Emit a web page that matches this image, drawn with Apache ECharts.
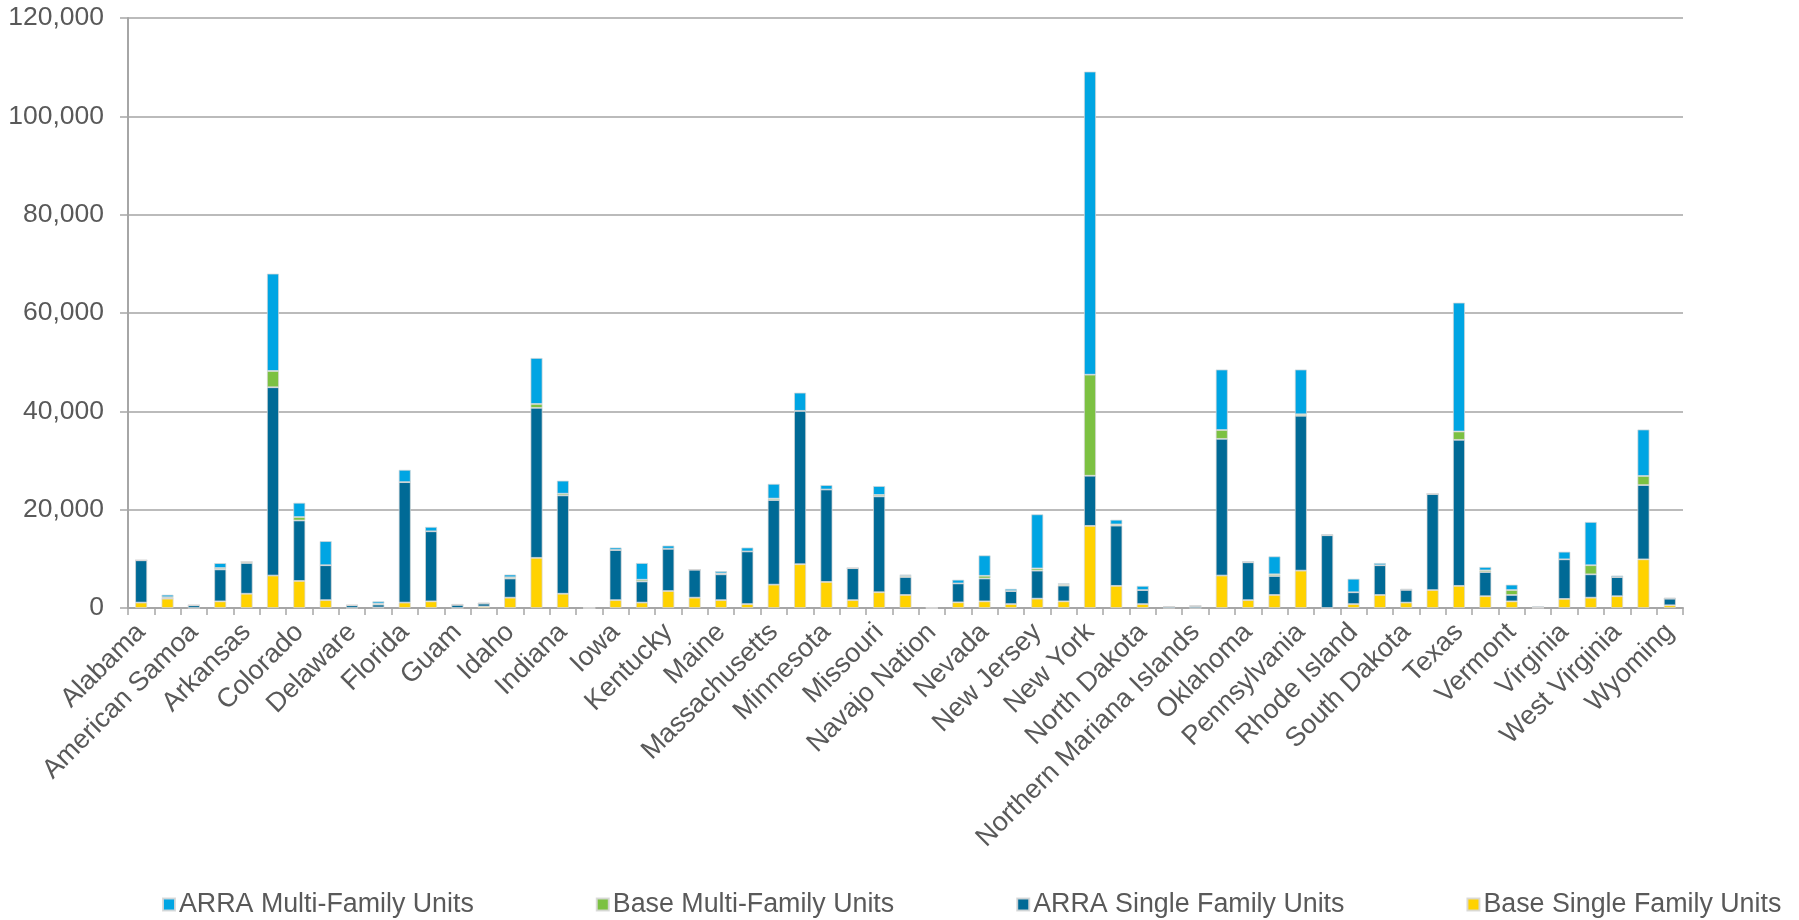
<!DOCTYPE html>
<html>
<head>
<meta charset="utf-8">
<title>Weatherization units by grantee</title>
<script src="https://cdn.jsdelivr.net/npm/echarts@6/dist/echarts.min.js"></script>
<style>
  html, body { margin: 0; padding: 0; background: #ffffff; }
  #chart { width: 1799px; height: 920px; }
</style>
</head>
<body>
<div id="chart"></div>
<script>
// Grantees, in alphabetical order
const grantees = [
  'Alabama', 'Alaska', 'American Samoa', 'Arizona', 'Arkansas', 'California',
  'Colorado', 'Connecticut', 'Delaware', 'District of Columbia', 'Florida',
  'Georgia', 'Guam', 'Hawaii', 'Idaho', 'Illinois', 'Indiana',
  'Inter Tribal Council of Arizona', 'Iowa', 'Kansas', 'Kentucky', 'Louisiana',
  'Maine', 'Maryland', 'Massachusetts', 'Michigan', 'Minnesota', 'Mississippi',
  'Missouri', 'Montana', 'Navajo Nation', 'Nebraska', 'Nevada', 'New Hampshire',
  'New Jersey', 'New Mexico', 'New York', 'North Carolina', 'North Dakota',
  'Northern Arapaho', 'Northern Mariana Islands', 'Ohio', 'Oklahoma', 'Oregon',
  'Pennsylvania', 'Puerto Rico', 'Rhode Island', 'South Carolina', 'South Dakota',
  'Tennessee', 'Texas', 'Utah', 'Vermont', 'Virgin Islands', 'Virginia',
  'Washington', 'West Virginia', 'Wisconsin', 'Wyoming'
];

// Units weatherized, one value per grantee
const baseSingleFamily = [
  1100, 1900, 0, 1350, 2900, 6600, 5500, 1600, 0, 100, 1100,
  1350, 0, 300, 2100, 10200, 2900, 0, 1600, 1100, 3450, 2100,
  1600, 800, 4750, 8900, 5300, 1600, 3200, 2650, 0, 1150, 1350, 800,
  1900, 1350, 16700, 4500, 800, 0, 0, 6600, 1600, 2650,
  7600, 0, 800, 2650, 1100, 3650, 4500, 2400, 1350, 0, 1850,
  2100, 2400, 9900, 550
];
const arraSingleFamily = [
  8600, 50, 550, 6500, 6250, 38300, 12300, 7100, 550, 600, 24500,
  14250, 650, 600, 3900, 30500, 20000, 0, 10200, 4300, 8600, 5700,
  5250, 10700, 17200, 31200, 18800, 6500, 19500, 3650, 0, 3850, 4650, 2650,
  5700, 3200, 10200, 12250, 2850, 300, 400, 27800, 7700, 3850,
  31500, 14800, 2400, 6050, 2600, 19550, 29700, 4900, 1300, 150, 8050,
  4750, 3900, 15100, 1350
];
const baseMultiFamily = [
  0, 250, 0, 280, 250, 3300, 700, 0, 0, 200, 0,
  0, 0, 0, 250, 800, 350, 0, 0, 350, 0, 0,
  200, 0, 300, 0, 0, 0, 300, 250, 0, 0, 550, 0,
  450, 250, 20550, 250, 0, 0, 0, 1800, 0, 350,
  300, 0, 0, 0, 0, 0, 1700, 350, 1000, 0, 0,
  1850, 0, 1850, 0
];
const arraMultiFamily = [
  0, 500, 0, 1000, 0, 19800, 2900, 4900, 0, 450, 2500,
  900, 150, 200, 550, 9350, 2650, 0, 500, 3400, 650, 0,
  450, 800, 3000, 3700, 900, 0, 1800, 250, 0, 750, 4150, 450,
  11000, 200, 61650, 950, 850, 0, 100, 12300, 200, 3650,
  9100, 200, 2750, 450, 200, 0, 26200, 700, 1100, 200, 1550,
  8800, 300, 9450, 200
];

// Value axis ticks
const yTicks = [0, 20000, 40000, 60000, 80000, 100000, 120000];

const FONT = '"Liberation Sans", Arial, Helvetica, sans-serif';
const TEXT = '#595959';
const AXIS = '#A6A6A6';

const seriesDefs = [
  { name: 'Base Single Family Units', data: baseSingleFamily, color: '#FFD200' },
  { name: 'ARRA Single Family Units', data: arraSingleFamily, color: '#006A96' },
  { name: 'Base Multi-Family Units', data: baseMultiFamily, color: '#7CC142' },
  { name: 'ARRA Multi-Family Units', data: arraMultiFamily, color: '#00A5E3' }
];

const chart = echarts.init(document.getElementById('chart'), null, { renderer: 'canvas' });

chart.setOption({
  backgroundColor: '#ffffff',
  animation: false,
  textStyle: { fontFamily: FONT },
  grid: { left: 128, right: 116, top: 18, bottom: 312, containLabel: false },
  legend: {
    data: ['ARRA Multi-Family Units', 'Base Multi-Family Units',
           'ARRA Single Family Units', 'Base Single Family Units'],
    left: 162,
    top: 891,
    padding: 0,
    icon: 'rect',
    itemWidth: 12,
    itemHeight: 12,
    itemGap: 122,
    textStyle: { fontSize: 26.8, color: TEXT, fontFamily: FONT, padding: [0, 0, 0, -1] }
  },
  xAxis: {
    type: 'category',
    data: grantees,
    boundaryGap: true,
    axisLine: { lineStyle: { color: AXIS, width: 2 } },
    axisTick: { show: true, interval: 0, length: 7, lineStyle: { color: AXIS, width: 1.5 } },
    axisLabel: {
      interval: 1,
      rotate: 45,
      margin: 20,
      fontSize: 27,
      color: TEXT,
      fontFamily: FONT
    }
  },
  yAxis: {
    type: 'value',
    min: yTicks[0],
    max: yTicks[yTicks.length - 1],
    interval: yTicks[1] - yTicks[0],
    axisLine: { show: true, lineStyle: { color: AXIS, width: 2 } },
    axisTick: { show: true, length: 8, lineStyle: { color: AXIS, width: 1.5 } },
    splitLine: { show: true, lineStyle: { color: '#BBBBBB', width: 2 } },
    axisLabel: {
      margin: 24,
      fontSize: 26.5,
      color: TEXT,
      fontFamily: FONT,
      formatter: v => v.toLocaleString('en-US')
    }
  },
  series: seriesDefs.map(s => ({
    name: s.name,
    type: 'bar',
    stack: 'units',
    data: s.data,
    barWidth: 12,
    itemStyle: { color: s.color, borderColor: 'rgba(215,215,215,0.9)', borderWidth: 0.8 },
    emphasis: { disabled: true }
  }))
});
</script>
</body>
</html>
